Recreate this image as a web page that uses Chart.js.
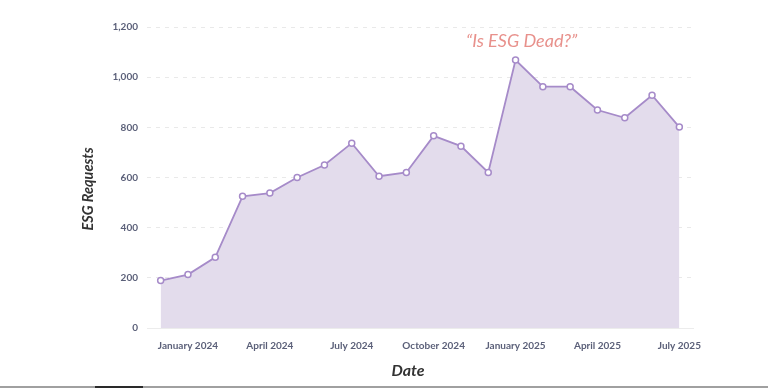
<!DOCTYPE html>
<html>
<head>
<meta charset="utf-8">
<script src="https://cdn.jsdelivr.net/npm/chart.js@4/dist/chart.umd.min.js"></script>
<style>
  body { margin: 0; background: #fff; }
  #wrap { position: relative; width: 768px; height: 388px; }
  #bar { position: absolute; left: 0; bottom: 0; width: 768px; height: 2px; background: #a0a0a0; }
  #bar2 { position: absolute; left: 95px; bottom: 0; width: 48px; height: 2px; background: #2a2a2a; }
</style>
</head>
<body>
<div id="wrap">
  <canvas id="myChart" width="768" height="388"></canvas>
  <div id="bar"></div><div id="bar2"></div>
</div>
<script>
// monthly ESG requests, Dec 2023 - Jul 2025
var months = ["December 2023", "January 2024", "February 2024", "March 2024", "April 2024",
  "May 2024", "June 2024", "July 2024", "August 2024", "September 2024", "October 2024",
  "November 2024", "December 2024", "January 2025", "February 2025", "March 2025",
  "April 2025", "May 2025", "June 2025", "July 2025"];
var requests = [189, 213, 282, 525, 538, 600, 650, 737, 605, 620, 766, 725, 620, 1068,
  962, 962, 869, 838, 928, 801];
var shownTicks = ["January 2024", "April 2024", "July 2024", "October 2024",
  "January 2025", "April 2025", "July 2025"];
var yTicks = [0, 200, 400, 600, 800, 1000, 1200];
var noteText = "\u201CIs ESG Dead?\u201D";
var noteMonth = "January 2025";
var xTitle = "Date";
var yTitle = "ESG Requests";

var tickColor = "#5b6079";

// quote above the Jan 2025 peak + axis titles (placed off-centre like the original)
var notePlugin = {
  id: "note",
  afterDatasetsDraw: function (chart) {
    var ctx = chart.ctx;
    var x = chart.scales.x.getPixelForValue(months.indexOf(noteMonth));
    var y = chart.scales.y.getPixelForValue(yTicks[yTicks.length - 1]);
    ctx.save();
    ctx.font = "italic 400 18px Lato";
    ctx.fillStyle = "#e8918c";
    ctx.textAlign = "center";
    ctx.textBaseline = "middle";
    ctx.fillText(noteText, x + 6, y + 14);

    ctx.fillStyle = "#333333";
    ctx.font = "italic bold 16px Lato";
    ctx.fillText(xTitle, 408, 371);

    ctx.font = "italic bold 14.5px Lato";
    ctx.translate(88.5, 189);
    ctx.rotate(-Math.PI / 2);
    ctx.fillText(yTitle, 0, 0);
    ctx.restore();
  }
};

new Chart("myChart", {
  type: "line",
  data: {
    labels: months,
    datasets: [
      {
        data: requests,
        borderColor: "#a68bc9",
        borderWidth: 1.8,
        backgroundColor: "#e3dcec",
        fill: "origin",
        tension: 0,
        pointRadius: 3,
        pointBackgroundColor: "#ffffff",
        pointBorderColor: "#a68bc9",
        pointBorderWidth: 1.5,
      },
    ],
  },
  options: {
    responsive: false,
    animation: false,
    layout: { padding: { left: 75, right: 75, top: 27, bottom: 4 } },
    plugins: { legend: { display: false }, tooltip: { enabled: false } },
    scales: {
      x: {
        offset: true,
        grid: { display: false },
        border: { display: true, color: "#ececec" },
        afterFit: function (scale) { scale.height = 56; },
        ticks: {
          autoSkip: false,
          maxRotation: 0,
          padding: 4,
          color: tickColor,
          font: { family: "Lato", size: 10, weight: "bold" },
          callback: function (value) {
            var lab = months[value];
            return shownTicks.indexOf(lab) >= 0 ? lab : "";
          },
        },
      },
      y: {
        min: 0,
        max: 1200,
        afterFit: function (scale) { scale.width = 72; },
        afterBuildTicks: function (scale) {
          scale.ticks = yTicks.map(function (v) { return { value: v }; });
        },
        grid: { color: "#e9e9e9", drawTicks: false, lineWidth: 1 },
        border: { display: false, dash: [4, 5] },
        ticks: {
          padding: 9,
          color: tickColor,
          font: { family: "Lato", size: 10, weight: "bold" },
        },
      },
    },
  },
  plugins: [notePlugin],
});
</script>
</body>
</html>
